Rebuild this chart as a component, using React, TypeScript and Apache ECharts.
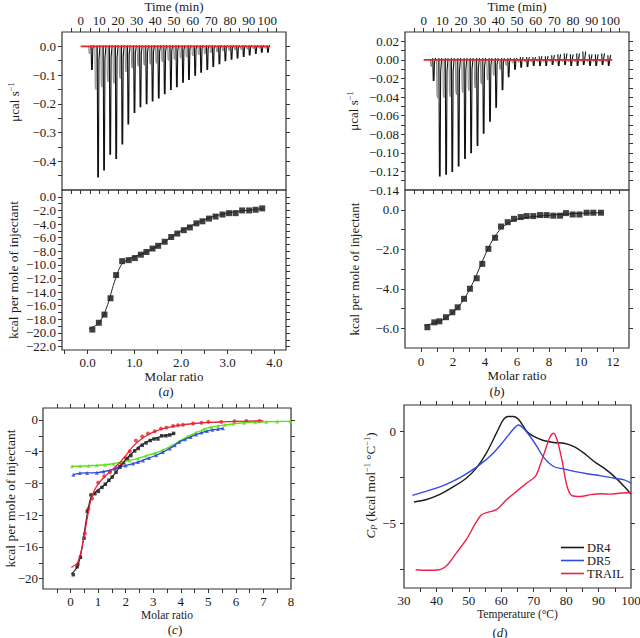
import React, { useEffect, useRef } from "react";
import * as echarts from "echarts";

const FONT = "Liberation Serif, Times New Roman, serif";
const INK = "#1a1a1a";

// ---------- Panel (a): raw ITC ----------
const aInjTime = [5.9, 9.2, 12.4, 15.7, 18.9, 22.2, 25.4, 28.7, 31.9, 35.2, 38.4, 41.7, 44.9, 48.2, 51.4, 54.7, 57.9, 61.2, 64.4, 67.7, 70.9, 74.2, 77.4, 80.7, 83.9, 87.2, 90.4, 93.7, 96.9, 100.2];
const aInjPeak = [-0.08, -0.455, -0.43, -0.375, -0.39, -0.34, -0.27, -0.23, -0.21, -0.2, -0.19, -0.18, -0.165, -0.15, -0.14, -0.125, -0.115, -0.1, -0.09, -0.08, -0.07, -0.06, -0.05, -0.045, -0.04, -0.035, -0.03, -0.025, -0.02, -0.02];
// ---------- Panel (a): integrated heats ----------
const aMolar = [0.1, 0.24, 0.36, 0.49, 0.61, 0.74, 0.88, 1.01, 1.14, 1.26, 1.39, 1.51, 1.65, 1.79, 1.92, 2.06, 2.19, 2.33, 2.46, 2.6, 2.74, 2.89, 3.03, 3.17, 3.31, 3.46, 3.6, 3.74];
const aHeat = [-19.5, -18.5, -17.3, -14.9, -11.5, -9.45, -9.3, -9.0, -8.5, -8.1, -7.6, -7.2, -6.6, -5.9, -5.4, -4.9, -4.5, -3.9, -3.6, -3.2, -2.9, -2.6, -2.4, -2.4, -2.0, -2.0, -1.9, -1.7];
const aFitMolar = [0.03, 0.15, 0.25, 0.35, 0.45, 0.55, 0.65, 0.72, 0.8, 0.9, 1.0, 1.2, 1.4, 1.6, 1.8, 2.0, 2.2, 2.4, 2.6, 2.8, 3.0, 3.2, 3.4, 3.6, 3.76];
const aFitHeat = [-19.4, -19.0, -18.4, -17.3, -15.4, -13.0, -11.0, -10.0, -9.45, -9.1, -8.8, -8.3, -7.6, -6.8, -5.9, -5.0, -4.3, -3.65, -3.1, -2.7, -2.4, -2.15, -2.0, -1.85, -1.75];

// ---------- Panel (b): raw ITC ----------
const bInjTime = [5.2, 8.5, 11.9, 15.2, 18.6, 22.0, 25.3, 28.7, 32.0, 35.4, 38.7, 42.1, 45.4, 48.8, 52.1, 55.5, 58.8, 62.2, 65.5, 68.9, 72.2, 75.6, 78.9, 82.3, 85.6, 89.0, 92.3, 95.7, 99.0];
const bInjPeak = [-0.022, -0.125, -0.123, -0.12, -0.114, -0.106, -0.1, -0.092, -0.079, -0.066, -0.051, -0.032, -0.018, -0.01, -0.008, -0.007, -0.006, -0.006, -0.006, -0.005, -0.006, -0.005, -0.006, -0.006, -0.005, -0.006, -0.006, -0.005, -0.006];
const bInjTop = [0.002, 0.002, 0.002, 0.002, 0.002, 0.002, 0.002, 0.002, 0.002, 0.002, 0.002, 0.002, 0.002, 0.002, 0.003, 0.003, 0.003, 0.004, 0.004, 0.005, 0.006, 0.007, 0.006, 0.007, 0.009, 0.006, 0.006, 0.007, 0.005];
// ---------- Panel (b): integrated heats ----------
const bMolar = [0.4, 0.83, 1.15, 1.56, 1.96, 2.29, 2.69, 3.06, 3.48, 3.83, 4.21, 4.63, 5.0, 5.42, 5.81, 6.23, 6.6, 7.02, 7.44, 7.85, 8.27, 8.69, 9.06, 9.48, 9.9, 10.35, 10.77, 11.25];
const bHeat = [-5.95, -5.7, -5.65, -5.44, -5.19, -4.94, -4.51, -4.0, -3.47, -2.74, -1.98, -1.42, -0.85, -0.63, -0.46, -0.37, -0.32, -0.32, -0.27, -0.27, -0.3, -0.3, -0.17, -0.24, -0.24, -0.15, -0.15, -0.15];
const bFitMolar = [0.2, 0.8, 1.4, 2.0, 2.5, 3.0, 3.5, 4.0, 4.5, 5.0, 5.5, 6.0, 6.5, 7, 8, 9, 10, 11.3];
const bFitHeat = [-5.85, -5.75, -5.55, -5.2, -4.75, -4.1, -3.25, -2.3, -1.5, -0.95, -0.65, -0.48, -0.4, -0.35, -0.28, -0.22, -0.18, -0.15];

// ---------- Panel (c) ----------
const cRedMolar = [0.27, 0.52, 0.65, 0.78, 1.0, 1.22, 1.43, 1.65, 1.85, 2.0, 2.15, 2.37, 2.6, 2.81, 3.06, 3.28, 3.48, 3.72, 3.9, 4.08, 4.45, 4.75, 5.0, 5.47, 5.95, 6.38, 6.86];
const cRedHeat = [-18.2, -14.3, -11.2, -9.9, -7.9, -7.1, -6.6, -6.05, -5.5, -4.8, -3.95, -2.6, -2.1, -1.72, -1.43, -1.1, -0.97, -0.76, -0.67, -0.6, -0.46, -0.35, -0.25, -0.25, -0.17, -0.13, -0.13];
const cRedFitMolar = [0.03, 0.25, 0.4, 0.55, 0.7, 0.85, 1.0, 1.25, 1.5, 1.75, 2.0, 2.25, 2.5, 2.75, 3.0, 3.3, 3.6, 4.0, 4.5, 5.0, 5.5, 6.0, 7.0];
const cRedFitHeat = [-18.6, -18.0, -16.3, -13.5, -10.6, -9.0, -8.1, -7.1, -6.3, -5.5, -4.5, -3.4, -2.6, -2.0, -1.55, -1.15, -0.9, -0.65, -0.45, -0.32, -0.25, -0.18, -0.12];
const cBlueMolar = [0.1, 0.34, 0.6, 0.95, 1.2, 1.43, 1.6, 1.79, 2.0, 2.27, 2.45, 2.63, 2.85, 3.11, 3.35, 3.6, 3.78, 3.94, 4.15, 4.35, 4.55, 4.75, 4.95, 5.15, 5.35, 5.53];
const cBlueHeat = [-6.9, -6.7, -6.68, -6.65, -6.5, -6.35, -6.15, -5.9, -5.75, -5.5, -5.3, -5.1, -4.8, -4.45, -4.05, -3.6, -3.2, -2.77, -2.45, -2.15, -1.85, -1.6, -1.4, -1.25, -1.15, -1.05];
const cGreenMolar = [0.05, 0.35, 0.65, 0.95, 1.25, 1.55, 1.85, 2.15, 2.45, 2.75, 3.05, 3.35, 3.65, 3.95, 4.25, 4.55, 4.85, 5.1, 5.35, 5.6, 5.9, 6.3, 6.7, 7.1, 7.5, 7.98];
const cGreenHeat = [-5.84, -5.82, -5.78, -5.72, -5.65, -5.52, -5.32, -5.1, -4.85, -4.5, -4.2, -3.8, -3.3, -2.7, -2.1, -1.6, -1.15, -0.88, -0.75, -0.62, -0.48, -0.35, -0.28, -0.24, -0.2, -0.18];

// ---------- Panel (d): DSC ----------
const dr4Temp = [33.1, 36.7, 40.9, 45, 49.2, 52.3, 55.4, 58.5, 60.6, 62.1, 63.7, 65.3, 67.9, 70, 73, 76.1, 79.3, 82.4, 85.5, 88.6, 91.7, 94.8, 97.9, 100];
const dr4Cp = [-3.85, -3.73, -3.45, -3.04, -2.55, -2.0, -1.18, -0.09, 0.64, 0.82, 0.82, 0.67, 0, -0.27, -0.49, -0.6, -0.64, -0.82, -1.18, -1.64, -2.0, -2.45, -3.0, -3.42];
const dr5Temp = [32.6, 36.7, 40.9, 45, 49.2, 53.3, 57.5, 60.6, 63.7, 65.3, 66.8, 68.9, 71, 73, 76.1, 79.3, 82.4, 86.5, 90.7, 94.8, 97.9, 100];
const dr5Cp = [-3.49, -3.27, -3.04, -2.73, -2.31, -1.82, -1.18, -0.55, 0.13, 0.36, 0.18, -0.27, -0.82, -1.4, -1.91, -2.05, -2.18, -2.31, -2.42, -2.55, -2.64, -2.82];
const trailTemp = [33.6, 36.7, 40.9, 43.5, 46.1, 49.2, 51.8, 53.9, 56, 58.5, 61.6, 64.7, 67.8, 70.5, 72, 73.6, 75.1, 76.1, 77.2, 78.7, 80.3, 81.9, 84.4, 87.6, 90.7, 93.8, 96.9, 100];
const trailCp = [-7.55, -7.58, -7.55, -7.27, -6.64, -5.91, -5.09, -4.55, -4.4, -4.27, -3.73, -3.27, -2.82, -2.45, -1.82, -1.0, -0.27, -0.09, -0.45, -1.55, -3.0, -3.51, -3.55, -3.45, -3.4, -3.42, -3.36, -3.33];

// ---------- tick labels / tick positions ----------
const timeLabels = [0, 10, 20, 30, 40, 50, 60, 70, 80, 90, 100];
const timeTicks = [-5, 0, 5, 10, 15, 20, 25, 30, 35, 40, 45, 50, 55, 60, 65, 70, 75, 80, 85, 90, 95, 100, 105];
const aRawLabels = [0, -0.1, -0.2, -0.3, -0.4];
const aRawTicks = [0, -0.05, -0.1, -0.15, -0.2, -0.25, -0.3, -0.35, -0.4, -0.45];
const aHeatLabels = [0, -2, -4, -6, -8, -10, -12, -14, -16, -18, -20, -22];
const aHeatTicks = [0, -1, -2, -3, -4, -5, -6, -7, -8, -9, -10, -11, -12, -13, -14, -15, -16, -17, -18, -19, -20, -21, -22];
const aMolarLabels = [0, 1, 2, 3, 4];
const aMolarTicks = [-0.5, 0, 0.5, 1, 1.5, 2, 2.5, 3, 3.5, 4];
const bRawLabels = [0.02, 0, -0.02, -0.04, -0.06, -0.08, -0.1, -0.12, -0.14];
const bRawTicks = [0.02, 0.01, 0, -0.01, -0.02, -0.03, -0.04, -0.05, -0.06, -0.07, -0.08, -0.09, -0.1, -0.11, -0.12, -0.13];
const bHeatLabels = [0, -2, -4, -6];
const bHeatTicks = [0, -1, -2, -3, -4, -5, -6];
const bMolarLabels = [0, 2, 4, 6, 8, 10, 12];
const bMolarTicks = [0, 1, 2, 3, 4, 5, 6, 7, 8, 9, 10, 11, 12];
const cMolarLabels = [0, 1, 2, 3, 4, 5, 6, 7, 8];
const cMolarTicks = [-0.5, 0, 0.5, 1, 1.5, 2, 2.5, 3, 3.5, 4, 4.5, 5, 5.5, 6, 6.5, 7, 7.5];
const cHeatLabels = [0, -4, -8, -12, -16, -20];
const cHeatTicks = [0, -2, -4, -6, -8, -10, -12, -14, -16, -18, -20];
const dTempLabels = [30, 40, 50, 60, 70, 80, 90, 100];
const dTempTicks = [35, 40, 45, 50, 55, 60, 65, 70, 75, 80, 85, 90, 95];
const dCpLabels = [0, -5];
const dCpTicks = [0, -2.5, -5, -7.5];

const pairs = (xs: number[], ys: number[]) => xs.map((x, i) => [x, ys[i]]);
const fmt = (d: number) => (v: number) => (v < 0 ? "\u2212" : "") + Math.abs(v).toFixed(d);

const RICH: any = {
  t: { fontSize: 13, fontFamily: FONT, color: INK, lineHeight: 16 },
  i: { fontSize: 13, fontFamily: FONT, color: INK, lineHeight: 16, fontStyle: "italic" },
  sup: { fontSize: 8.5, fontFamily: FONT, color: INK, lineHeight: 8, verticalAlign: "top" },
  sub: { fontSize: 8.5, fontFamily: FONT, color: INK, lineHeight: 8, verticalAlign: "bottom", fontStyle: "italic" },
};

function axis(o: any) {
  return {
    type: "value",
    gridIndex: o.grid,
    position: o.pos,
    min: o.min,
    max: o.max,
    axisLine: { show: false, onZero: false },
    splitLine: { show: false },
    axisTick: { show: true, inside: false, length: 4, customValues: o.ticks, lineStyle: { color: "#333", width: 1 } },
    axisLabel: o.labels
      ? { show: true, customValues: o.labels, formatter: o.fmt, margin: o.margin ?? 6, fontSize: 13, color: INK, fontFamily: FONT }
      : { show: false },
    name: o.name,
    nameLocation: "middle",
    nameGap: o.nameGap,
    nameRotate: o.nameRotate,
    nameMoveOverlap: o.noMove ? false : undefined,
    nameTextStyle: { fontSize: o.nameSize ?? 13, color: INK, fontFamily: FONT, rich: RICH, padding: o.namePad ?? 0 },
  };
}

function spikeRender(params: any, api: any) {
  const t = api.value(0);
  const p = api.value(1);
  let top = api.value(2);
  if (!Number.isFinite(top)) top = 0.004;
  const b = api.coord([t, 0]);
  const pk = api.coord([t, p]);
  const tp = api.coord([t, top]);
  const x = b[0];
  const y0 = b[1];
  const yb = pk[1];
  const d = yb - y0;
  return {
    type: "group",
    children: [
      {
        type: "polyline",
        shape: { points: [[x - 3.0, y0], [x - 2.6, y0 + 0.3 * d], [x - 1.9, y0 + 0.33 * d], [x - 1.4, y0]] },
        style: { stroke: "#8c8c8c", lineWidth: 1, fill: "none" },
      },
      {
        type: "polyline",
        shape: { points: [[x - 0.6, tp[1]], [x - 0.1, yb], [x + 0.6, yb], [x + 1.1, y0 + 0.1 * d], [x + 2.2, tp[1]]] },
        style: { stroke: "#111", lineWidth: 1.1, fill: "none" },
      },
    ],
  };
}

export default function App() {
  const ref = useRef<HTMLDivElement>(null);
  useEffect(() => {
    if (!ref.current) return;
    const chart = echarts.init(ref.current, null, { renderer: "svg" });
    const g = (left: number, top: number, width: number, height: number) => ({
      left, top, width, height, show: true, borderColor: "#333", borderWidth: 1.2, backgroundColor: "transparent",
      containLabel: false, outerBoundsMode: "none",
    });
    const panelLabel = (letter: string, x: number, y: number) => ({
      type: "text", x, y,
      style: { text: "({i|" + letter + "})", rich: RICH, fill: INK, font: "13px " + FONT, textAlign: "center", textVerticalAlign: "middle", align: "center", verticalAlign: "middle" },
    });
    const option: any = {
      animation: false,
      backgroundColor: "#fff",
      textStyle: { fontFamily: FONT },
      grid: [
        g(62, 32, 224, 158),
        g(62, 190, 224, 160),
        g(405, 32, 224, 158),
        g(405, 190, 224, 158),
        g(43, 408, 248, 181),
        g(404, 405, 227, 183),
      ],
      xAxis: [
        axis({ grid: 0, pos: "top", min: -10, max: 110, labels: timeLabels, ticks: timeTicks, fmt: fmt(0), margin: 5, name: "Time (min)", nameGap: 19 }),
        axis({ grid: 0, pos: "bottom", min: -10, max: 110, ticks: timeTicks }),
        axis({ grid: 1, pos: "bottom", min: -0.55, max: 4.25, labels: aMolarLabels, ticks: aMolarTicks, fmt: fmt(1), margin: 6, name: "Molar ratio", nameGap: 16 }),
        axis({ grid: 2, pos: "top", min: -10, max: 110, labels: timeLabels, ticks: timeTicks, fmt: fmt(0), margin: 5, name: "Time (min)", nameGap: 19 }),
        axis({ grid: 2, pos: "bottom", min: -10, max: 110, ticks: timeTicks }),
        axis({ grid: 3, pos: "bottom", min: -1, max: 13, labels: bMolarLabels, ticks: bMolarTicks, fmt: fmt(0), margin: 7, name: "Molar ratio", nameGap: 18 }),
        axis({ grid: 4, pos: "bottom", min: -1, max: 8, labels: cMolarLabels, ticks: cMolarTicks, fmt: fmt(0), margin: 6, name: "Molar ratio", nameGap: 15, nameSize: 11.5 }),
        axis({ grid: 4, pos: "top", min: -1, max: 8, ticks: cMolarTicks }),
        axis({ grid: 5, pos: "bottom", min: 30, max: 100, labels: dTempLabels, ticks: dTempTicks, fmt: fmt(0), margin: 6, name: "Temperature (\u00b0C)", nameGap: 20, nameSize: 11.5 }),
        axis({ grid: 5, pos: "top", min: 30, max: 100, ticks: dTempTicks }),
      ],
      yAxis: [
        axis({ grid: 0, pos: "left", min: -0.5, max: 0.05, labels: aRawLabels, ticks: aRawTicks, fmt: fmt(1), margin: 6, name: "{t|\u03bccal s}{sup|\u22121}", nameGap: 40, nameRotate: 90, namePad: [0, 0, 0, 18] }),
        axis({ grid: 0, pos: "right", min: -0.5, max: 0.05, ticks: aRawTicks }),
        axis({ grid: 1, pos: "left", min: -22.5, max: 1, labels: aHeatLabels, ticks: aHeatTicks, fmt: fmt(1), margin: 6, name: "kcal per mole of injectant", nameGap: 42, nameRotate: 90, nameSize: 13.5 }),
        axis({ grid: 1, pos: "right", min: -22.5, max: 1, ticks: aHeatTicks }),
        axis({ grid: 2, pos: "left", min: -0.14, max: 0.03, labels: bRawLabels, ticks: bRawTicks, fmt: fmt(2), margin: 6, name: "{t|\u03bccal s}{sup|\u22121}", nameGap: 44, nameRotate: 90 }),
        axis({ grid: 2, pos: "right", min: -0.14, max: 0.03, ticks: bRawTicks }),
        axis({ grid: 3, pos: "left", min: -7, max: 1, labels: bHeatLabels, ticks: bHeatTicks, fmt: fmt(1), margin: 6, name: "kcal per mole of injectant", nameGap: 44, nameRotate: 90 }),
        axis({ grid: 3, pos: "right", min: -7, max: 1, ticks: bHeatTicks }),
        axis({ grid: 4, pos: "left", min: -21.3, max: 1.5, labels: cHeatLabels, ticks: cHeatTicks, fmt: fmt(0), margin: 5, name: "kcal per mole of injectant", nameGap: 26, nameRotate: 90, nameSize: 13.5, noMove: true }),
        axis({ grid: 4, pos: "right", min: -21.3, max: 1.5, ticks: cHeatTicks }),
        axis({ grid: 5, pos: "left", min: -8.55, max: 1.45, labels: dCpLabels, ticks: dCpTicks, fmt: fmt(0), margin: 8, name: "{i|C}{sub|P}{t| (kcal mol}{sup|\u22121}{t| \u00b0C}{sup|\u22121}{t|)}", nameGap: 24, nameRotate: 90, namePad: [0, 0, 0, 22] }),
        axis({ grid: 5, pos: "right", min: -8.55, max: 1.45, ticks: dCpTicks }),
      ],
      legend: {
        data: ["DR4", "DR5", "TRAIL"],
        orient: "vertical",
        left: 556,
        top: 536,
        icon: "rect",
        itemWidth: 23,
        itemHeight: 1.6,
        itemGap: 0,
        textStyle: { fontFamily: FONT, fontSize: 12.5, color: INK, padding: [0, 0, 0, -2] },
      },
      graphic: [
        panelLabel("a", 166, 391),
        panelLabel("b", 497, 391),
        panelLabel("c", 175, 629),
        panelLabel("d", 500, 632),
      ],
      series: [
        // (a) raw
        { type: "custom", xAxisIndex: 0, yAxisIndex: 0, renderItem: spikeRender, data: pairs(aInjTime, aInjPeak), encode: { x: 0, y: 1 }, silent: true, z: 2 },
        { type: "line", xAxisIndex: 0, yAxisIndex: 0, data: [[0, 0], [101, 0]], symbol: "none", lineStyle: { color: "#e3262e", width: 1.6 }, z: 3, silent: true },
        // (a) integrated
        { type: "line", xAxisIndex: 2, yAxisIndex: 2, data: pairs(aFitMolar, aFitHeat), symbol: "none", smooth: 0.2, lineStyle: { color: "#222", width: 1 }, silent: true },
        { type: "scatter", xAxisIndex: 2, yAxisIndex: 2, data: pairs(aMolar, aHeat), symbol: "rect", symbolSize: 6, itemStyle: { color: "#111" }, silent: true },
        // (b) raw
        { type: "custom", xAxisIndex: 3, yAxisIndex: 4, renderItem: spikeRender, data: bInjTime.map((t, i) => [t, bInjPeak[i], bInjTop[i]]), encode: { x: 0, y: 1 }, silent: true, z: 2 },
        { type: "line", xAxisIndex: 3, yAxisIndex: 4, data: [[0, 0], [101, 0]], symbol: "none", lineStyle: { color: "#e3262e", width: 1.6 }, z: 3, silent: true },
        // (b) integrated
        { type: "line", xAxisIndex: 5, yAxisIndex: 6, data: pairs(bFitMolar, bFitHeat), symbol: "none", smooth: 0.3, lineStyle: { color: "#222", width: 1 }, silent: true },
        { type: "scatter", xAxisIndex: 5, yAxisIndex: 6, data: pairs(bMolar, bHeat), symbol: "rect", symbolSize: 6, itemStyle: { color: "#111" }, silent: true },
        // (c)
        { type: "line", xAxisIndex: 6, yAxisIndex: 8, data: pairs(cGreenMolar, cGreenHeat), symbol: "none", smooth: 0.2, lineStyle: { color: "#5fe01c", width: 1.4 }, silent: true },
        { type: "scatter", xAxisIndex: 6, yAxisIndex: 8, data: pairs(cGreenMolar, cGreenHeat), symbol: "triangle", symbolSize: 4, itemStyle: { color: "#5fe01c" }, silent: true },
        { type: "line", xAxisIndex: 6, yAxisIndex: 8, data: pairs(cBlueMolar, cBlueHeat), symbol: "none", smooth: 0.2, lineStyle: { color: "#2b46e0", width: 1.3 }, silent: true },
        { type: "scatter", xAxisIndex: 6, yAxisIndex: 8, data: pairs(cBlueMolar, cBlueHeat), symbol: "triangle", symbolSize: 4, itemStyle: { color: "#2b46e0" }, silent: true },
        { type: "line", xAxisIndex: 6, yAxisIndex: 8, data: pairs(aFitMolar, aFitHeat), symbol: "none", smooth: 0.2, lineStyle: { color: "#222", width: 1.2 }, silent: true },
        { type: "scatter", xAxisIndex: 6, yAxisIndex: 8, data: pairs(aMolar, aHeat), symbol: "rect", symbolSize: 3.5, itemStyle: { color: "#111" }, silent: true },
        { type: "line", xAxisIndex: 6, yAxisIndex: 8, data: pairs(cRedFitMolar, cRedFitHeat), symbol: "none", smooth: 0.2, lineStyle: { color: "#ec2034", width: 1.3 }, silent: true },
        { type: "scatter", xAxisIndex: 6, yAxisIndex: 8, data: pairs(cRedMolar, cRedHeat), symbol: "circle", symbolSize: 4, itemStyle: { color: "#ec2034" }, silent: true },
        // (d)
        { name: "DR4", type: "line", xAxisIndex: 8, yAxisIndex: 10, data: pairs(dr4Temp, dr4Cp), symbol: "none", smooth: 0.3, lineStyle: { color: "#1a1a1a", width: 1.4 }, itemStyle: { color: "#1a1a1a" }, silent: true },
        { name: "DR5", type: "line", xAxisIndex: 8, yAxisIndex: 10, data: pairs(dr5Temp, dr5Cp), symbol: "none", smooth: 0.3, lineStyle: { color: "#3249ec", width: 1.4 }, itemStyle: { color: "#3249ec" }, silent: true },
        { name: "TRAIL", type: "line", xAxisIndex: 8, yAxisIndex: 10, data: pairs(trailTemp, trailCp), symbol: "none", smooth: 0.3, lineStyle: { color: "#f0204c", width: 1.4 }, itemStyle: { color: "#f0204c" }, silent: true },
      ],
    };
    chart.setOption(option);
    return () => chart.dispose();
  }, []);
  return (
    <div
      ref={ref}
      style={{ position: "fixed", left: 0, top: 0, width: 640, height: 638, background: "#fff" }}
    />
  );
}
